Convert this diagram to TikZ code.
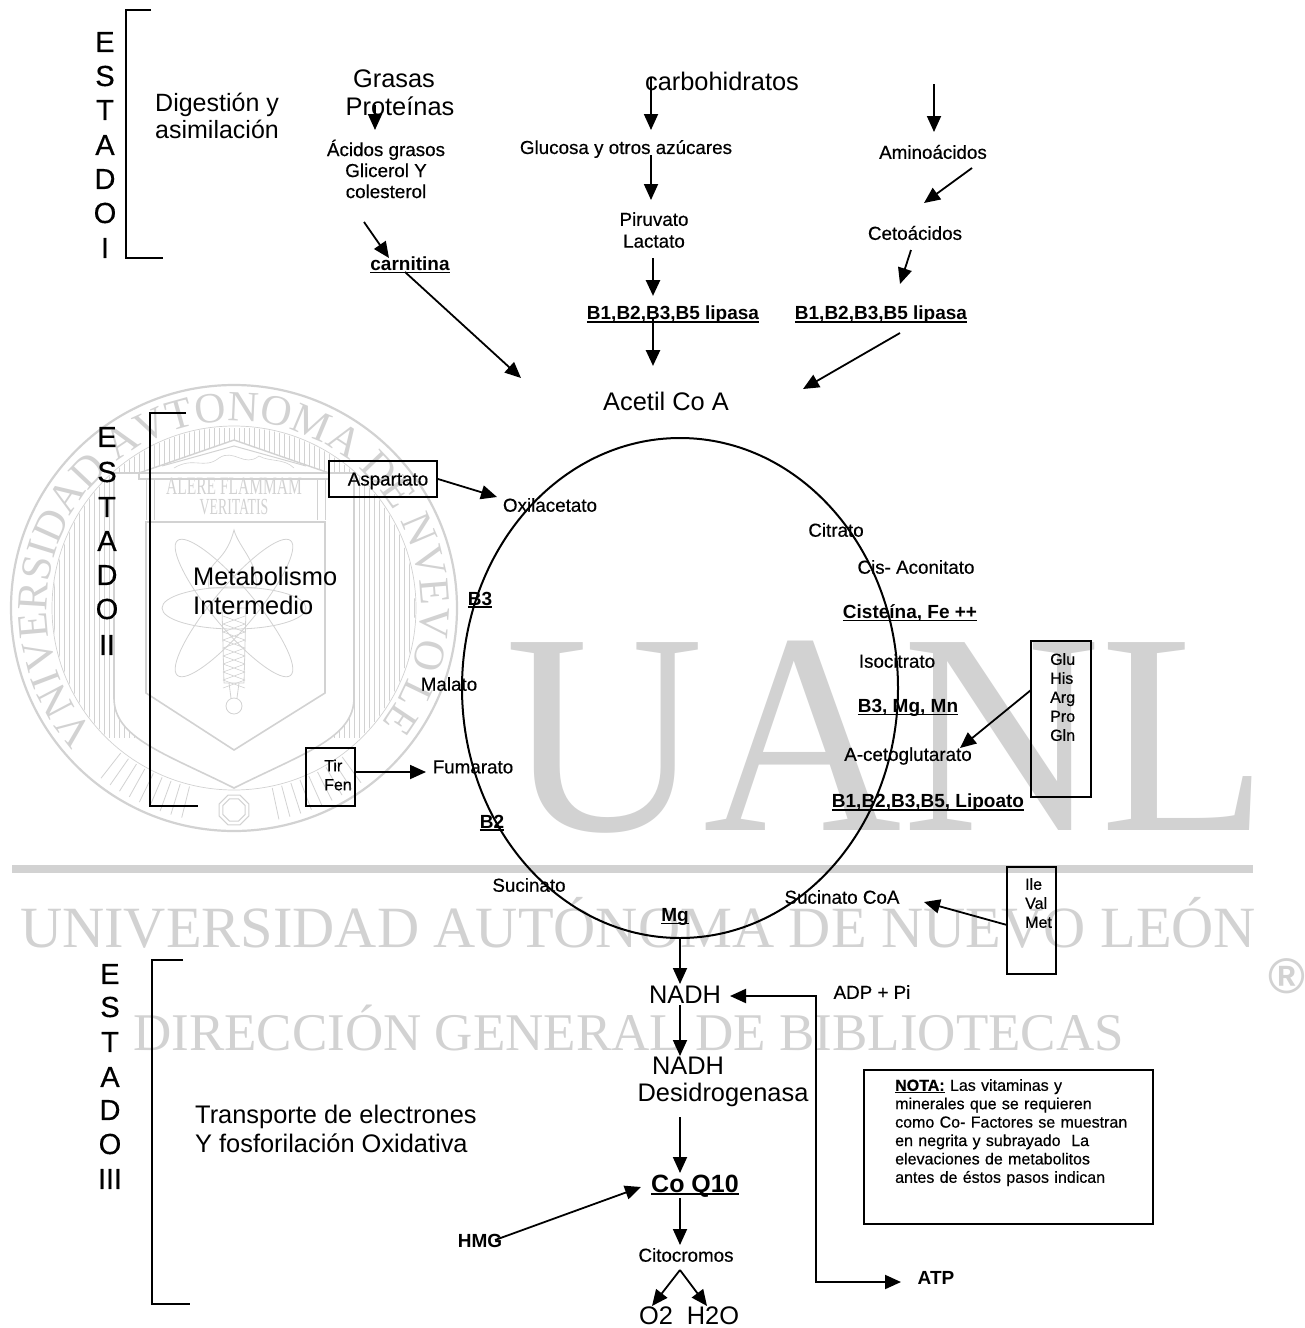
\documentclass[tikz,border=0pt]{standalone}
\usepackage{fontspec}
\setmainfont{Liberation Sans}
\newfontfamily\wmser{Liberation Serif}
\newfontfamily\labf[FakeBold=0.5]{Liberation Sans}
\usetikzlibrary{arrows.meta,decorations.text,shapes.geometric}
\definecolor{wm}{HTML}{D2D2D2}
\newcommand\fs[1]{\fontsize{#1}{#1}\selectfont}
\newsavebox\ulbox
\newcommand\ul[1]{\sbox\ulbox{#1}\rlap{\rule[-2.6pt]{\wd\ulbox}{1.6pt}}\usebox\ulbox}
\tikzset{
  big/.style={font=\fs{25.4},inner sep=0pt},
  mid/.style={font=\labf\fs{18.8},inner sep=0pt},
  small/.style={font=\labf\fs{16},inner sep=0pt},
  boldl/.style={font=\bfseries\fs{19},inner sep=0pt},
  letter/.style={font=\labf\fs{29},inner sep=0pt},
  brack/.style={draw=black,line width=2pt},
  arr/.style={draw=black,line width=1.8pt,-{Triangle[length=16pt,width=14pt]}},
  arrthick/.style={arr,line width=2.6pt},
  boxn/.style={draw=black,line width=2pt,inner sep=0pt},
  wmt/.style={text=wm,inner sep=0pt,anchor=base west},
  wmline/.style={draw=wm,line width=1pt},
  wmhatch/.style={draw=wm,line width=.6pt}
}
\begin{document}
\begin{tikzpicture}[x=1pt,y=-1pt]
\useasboundingbox[fill=white] (0,0) rectangle (1305,1328);
% ---------- watermark ----------
\begin{scope}[shift={(234,608)},y=1pt]
  \begin{scope}
    \clip (0,0) circle (181pt);
    \foreach \x in {-180,-175,...,180} \draw[wmhatch] (\x,180) -- (\x,-130);
  \end{scope}
  \foreach \a in {232,235,...,258,282,285,...,308}
    \draw[wmhatch,line width=.8pt] (\a:184pt) -- (\a:216pt);
  \draw[wmline,line width=2.2pt] (0,0) circle (223pt);
  \draw[wmline,line width=.7pt] (0,0) circle (182pt);
  \path[decorate,decoration={text along path,text align={fit to path},
     text={|\wmser\fs{43}\color{wm}|VNIVERSIDAD AVTONOMA DE NVEVO LEON}}]
     (222:187pt) arc[start angle=222,end angle=-42,radius=187pt];
  % outer shield
  \draw[wmline,line width=1.6pt,fill=white] (-120,135) -- (-120,-90)
     .. controls (-120,-130) and (-70,-145) .. (0,-180)
     .. controls (70,-145) and (120,-130) .. (120,-90) -- (120,135) -- cycle;
  % inner shield
  \draw[wmline,line width=1.6pt] (-88,86) -- (-88,-85) -- (0,-142) -- (91,-85) -- (91,86) -- cycle;
  % temple
  \draw[wmline,line width=1.4pt,fill=white] (-95,135) -- (0,168) -- (95,135) -- cycle;
  \draw[wmline] (-72,142) -- (0,162) -- (72,142);
  \draw[wmline,line width=.6pt] (-60,140) .. controls (-40,152) and (-30,138) .. (-15,150)
     .. controls (0,160) and (10,140) .. (25,152) .. controls (35,146) and (50,150) .. (60,140);
  \draw[wmline,line width=1.4pt,fill=white] (-95,135) rectangle (95,129);
  \draw[wmline] (-88,129) -- (-88,88) (-80,129) -- (-80,88) (83,129) -- (83,88) (91,129) -- (91,88);
  \node[wmt,anchor=center,xscale=.62,font=\wmser\fs{25}] (wmalere) at (0,122) {ALERE FLAMMAM};
  \node[wmt,anchor=center,xscale=.6,font=\wmser\fs{23}] (wmver) at (0,101) {VERITATIS};
  % atom
  \draw[wmline,line width=.8pt] (0,0) ellipse [x radius=72pt,y radius=21pt];
  \draw[wmline,line width=.8pt,rotate=50] (0,0) ellipse [x radius=88pt,y radius=21pt];
  \draw[wmline,line width=.8pt,rotate=-50] (0,0) ellipse [x radius=88pt,y radius=21pt];
  % flame and torch
  \draw[wmline,line width=.8pt] (-25,20) .. controls (-30,50) and (-10,40) .. (0,78)
     .. controls (5,60) and (25,45) .. (22,20) -- cycle;
  \draw[wmline,line width=.8pt] (-12,0) -- (-10,-75) -- (10,-75) -- (12,0) -- cycle;
  \foreach \y in {-8,-16,...,-72} \draw[wmhatch] (-11,\y) -- (11,\y-8) (11,\y) -- (-11,\y-8);
  \draw[wmline,line width=.8pt] (0,-98) circle (8pt) (-5,-75) -- (-3,-90) (5,-75) -- (3,-90);
  % octagon
  \node[draw=wm,line width=1pt,regular polygon,regular polygon sides=8,minimum size=32pt,inner sep=0pt] (wmoct) at (0,-202) {};
  \node[draw=wm,line width=1pt,regular polygon,regular polygon sides=8,minimum size=24pt,inner sep=0pt] (wmoct2) at (0,-202) {};
\end{scope}
\node[wmt,font=\wmser\fs{287},xscale=.958] (wmuanl) at (505,830) {UANL};
\node[fill=wm,minimum width=1241pt,minimum height=8pt,inner sep=0pt,anchor=west] (wmbar) at (12,869) {};
\node[wmt,font=\wmser\fs{58.4}] (wmuni) at (20,947) {UNIVERSIDAD AUTÓNOMA DE NUEVO LEÓN};
\node[wmt,font=\wmser\fs{53}] (wmdir) at (133,1050) {DIRECCIÓN GENERAL DE BIBLIOTECAS};
\node[text=wm,font=\bfseries\fs{50},inner sep=0pt] (wmreg) at (1287,976) {®};
% ---------- stage letters ----------
\foreach \t/\y/\n in {E/42/a,S/76/b,T/110/c,A/145/d,D/179/e,O/213/f,I/248/g}
  \node[letter] (one\n) at (105,\y) {\t};
\foreach \t/\y/\n in {E/437/a,S/472/b,T/507/c,A/541/d,D/575/e,O/609/f,II/645/g}
  \node[letter] (two\n) at (107,\y) {\t};
\foreach \t/\y/\n in {E/974/a,S/1007/b,T/1042/c,A/1077/d,D/1110/e,O/1144/f,III/1179/g}
  \node[letter] (thr\n) at (110,\y) {\t};
% brackets
\coordinate (bA1) at (151,10); \coordinate (bA2) at (126,10); \coordinate (bA3) at (126,258); \coordinate (bA4) at (163,258);
\coordinate (bB1) at (186,413); \coordinate (bB2) at (150,413); \coordinate (bB3) at (150,806); \coordinate (bB4) at (198,806);
\coordinate (bC1) at (183,960); \coordinate (bC2) at (152,960); \coordinate (bC3) at (152,1304); \coordinate (bC4) at (190,1304);
\draw[brack] (bA1) -- (bA2) -- (bA3) -- (bA4);
\draw[brack] (bB1) -- (bB2) -- (bB3) -- (bB4);
\draw[brack] (bC1) -- (bC2) -- (bC3) -- (bC4);
% stage titles
\node[big,font=\fs{25},align=left,anchor=west] (dig) at (155,116) {Digestión y\\[2.5pt]asimilación};
\node[big,align=left,anchor=west] (met) at (193,591) {Metabolismo\\[3pt]Intermedio};
\node[big,align=left,anchor=west] (trans) at (195,1129) {Transporte de electrones\\[3.5pt]Y fosforilación Oxidativa};
% stage I
\node[big] (grasas) at (394,79) {Grasas};
\node[big] (prot) at (400,106) {Proteínas};
\node[big] (carb) at (722,81) {carbohidratos};
\node[mid,align=center] (acid) at (386,169) {Ácidos grasos\\[2.2pt]Glicerol Y\\[2.2pt]colesterol};
\node[mid] (gluc) at (626,149) {Glucosa y otros azúcares};
\node[mid] (amino) at (933,152) {Aminoácidos};
\node[mid,align=center] (piru) at (654,230) {Piruvato\\[3pt]Lactato};
\node[mid] (ceto) at (915,233) {Cetoácidos};
\node[boldl] (carn) at (410,265) {\ul{carnitina}};
\node[boldl] (lipa) at (673,315) {\ul{B1,B2,B3,B5 lipasa}};
\node[boldl] (lipb) at (881,315) {\ul{B1,B2,B3,B5 lipasa}};
\node[big] (acetil) at (666,401) {Acetil Co A};
\foreach \n/\xa/\ya/\xb/\yb in {g1/375/105/375/130,g2/651/78/651/130,g3/651/155/651/200,
   g4/934/84/934/132,g5/972/168/924/203,g6/911/250/900/284,g7/364/222/389/258,
   g8/405/272/521/378,g9/900/333/803/389,g10/495/1240/641/1187}
  {\coordinate (\n s) at (\xa,\ya); \coordinate (\n e) at (\xb,\yb); \draw[arr] (\n s) -- (\n e);}
\foreach \n/\xa/\ya/\xb/\yb in {h1/653/258/653/296,h2/653/318/653/366}
  {\coordinate (\n s) at (\xa,\ya); \coordinate (\n e) at (\xb,\yb); \draw[arrthick] (\n s) -- (\n e);}
% cycle
\node[draw=black,line width=2pt,ellipse,minimum width=436pt,minimum height=500pt,inner sep=0pt] (cycle) at (680,688) {};
\node[mid] (oxi) at (550,505) {Oxilacetato};
\node[mid] (citr) at (836,530) {Citrato};
\node[mid] (cis) at (916,567) {Cis- Aconitato};
\node[boldl] (cist) at (910,613) {\ul{Cisteína, Fe ++}};
\node[mid] (iso) at (897,661) {Isocitrato};
\node[boldl] (b3mg) at (908,708) {\ul{B3, Mg, Mn}};
\node[mid] (ace) at (908,756) {A-cetoglutarato};
\node[boldl] (lipo) at (928,803) {\ul{B1,B2,B3,B5, Lipoato}};
\node[mid] (sucoa) at (842,897) {Sucinato CoA};
\node[boldl] (mg) at (675,917) {\ul{Mg}};
\node[mid] (suc) at (529,885) {Sucinato};
\node[boldl] (b2) at (492,823) {\ul{B2}};
\node[mid] (fum) at (473,767) {Fumarato};
\node[mid] (mal) at (449,684) {Malato};
\node[boldl] (b3) at (480,600) {\ul{B3}};
% side boxes
\node[boxn,minimum width=108pt,minimum height=36pt] (asp) at (383,479) {};
\node[mid] (aspt) at (388,481) {Aspartato};
\node[boxn,minimum width=49pt,minimum height=58pt] (tir) at (330.5,777) {};
\node[small,align=left,anchor=west] (tirt) at (324,775) {Tir\\[3pt]Fen};
\node[boxn,minimum width=60pt,minimum height=156pt] (glu) at (1061,719) {};
\node[small,align=left,anchor=north west] (glut) at (1050,653) {Glu\\[3pt]His\\[3pt]Arg\\[3pt]Pro\\[3pt]Gln};
\node[boxn,minimum width=49pt,minimum height=107pt] (ile) at (1031.5,920.5) {};
\node[small,align=left,anchor=north west] (ilet) at (1025,878) {Ile\\[3pt]Val\\[3pt]Met};
\coordinate (ae) at (497,497);
\draw[arr] (asp.east) -- (ae);
\coordinate (te) at (426,772);
\draw[arr] (tir.east |- te) -- (te);
\coordinate (gs) at (1031,690); \coordinate (ge) at (960,748);
\draw[arr] (gs) -- (ge);
\coordinate (is) at (1007,925); \coordinate (ie) at (924,902);
\draw[arr] (is) -- (ie);
% stage III
\node[big] (nadh) at (685,995) {NADH};
\node[big] (nadd) at (688,1066) {NADH};
\node[big] (desi) at (723,1095) {Desidrogenasa};
\node[big,font=\bfseries\fs{25}] (coq) at (695,1186) {\ul{Co Q10}};
\node[mid] (cito) at (686,1255) {Citocromos};
\node[big] (o2) at (656,1316) {O2};
\node[big] (h2o) at (713,1316) {H2O};
\node[boldl] (hmg) at (480,1241) {HMG};
\node[mid] (adp) at (872,992) {ADP + Pi};
\node[boldl] (atp) at (936,1278) {ATP};
\foreach \n/\xa/\ya/\xb/\yb in {k1/680/938/680/984,k2/680/1005/680/1056,k3/680/1117/680/1173,
   k4/680/1198/680/1245,k5/680/1270/652/1306,k6/680/1270/707/1306}
  {\coordinate (\n s) at (\xa,\ya); \coordinate (\n e) at (\xb,\yb); \draw[arr] (\n s) -- (\n e);}
\coordinate (atpa) at (901,1282); \coordinate (atpc) at (816,1282); \coordinate (atpd) at (816,996); \coordinate (atpb) at (730,996);
\draw[draw=black,line width=2pt,{Triangle[length=16pt,width=14pt]}-{Triangle[length=16pt,width=14pt]}] (atpb) -- (atpd) -- (atpc) -- (atpa);
% note
\node[draw=black,line width=1.6pt,minimum width=289pt,minimum height=154pt,inner sep=0pt] (notabox) at (1008.5,1147) {};
\node[font=\labf\fs{16},inner sep=0pt,align=left,anchor=north west,text width=250pt] (notat) at (895,1079) {\textbf{\ul{NOTA:}} Las vitaminas y\\[2.4pt]minerales que se requieren\\[2.4pt]como Co- Factores se muestran\\[2.4pt]en negrita y subrayado\ \ La\\[2.4pt]elevaciones de metabolitos\\[2.4pt]antes de éstos pasos indican};
\end{tikzpicture}
\end{document}
